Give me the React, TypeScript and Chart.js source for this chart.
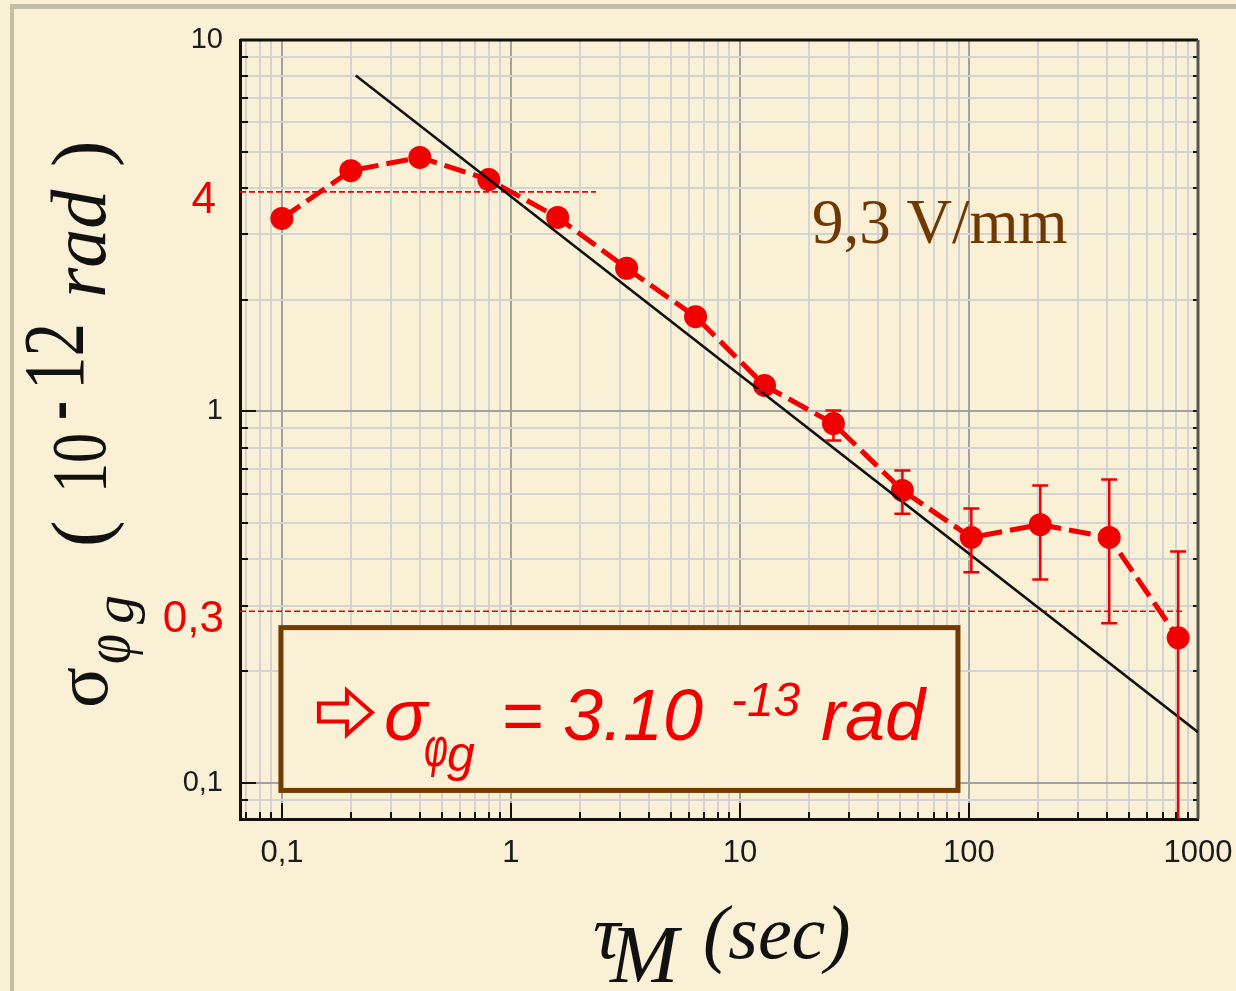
import { useEffect, useRef } from 'react';
import { Chart, registerables } from 'chart.js';

Chart.register(...registerables);

// ---------------- data ----------------
const tauValues = [0.1, 0.2, 0.4, 0.8, 1.6, 3.2, 6.4, 12.8, 25.6, 51.2, 102.4, 204.8, 409.6, 819.2];
const sigmaValues = [3.31, 4.45, 4.83, 4.21, 3.33, 2.43, 1.8, 1.175, 0.928, 0.613, 0.458, 0.496, 0.458, 0.246];
const errHigh = [null, null, null, null, null, null, null, 1.21, 1.006, 0.694, 0.548, 0.632, 0.656, 0.42];
const errLow = [null, null, null, null, null, null, null, 1.14, 0.836, 0.531, 0.369, 0.353, 0.269, 0.01];

const fitTau = [0.21, 1000];
const fitSigma = [8.02, 0.137];

const refValues = [3.9, 0.29];
const refEnds = [2.35, 851];
const refLabels = ['4', '0,3'];

const xGridValues = [
  0.07, 0.08, 0.09,
  0.1, 0.2, 0.3, 0.4, 0.5, 0.6, 0.7, 0.8, 0.9,
  1, 2, 3, 4, 5, 6, 7, 8, 9,
  10, 20, 30, 40, 50, 60, 70, 80, 90,
  100, 200, 300, 400, 500, 600, 700, 800, 900,
  1000,
];
const yGridValues = [
  0.09,
  0.1, 0.2, 0.3, 0.4, 0.5, 0.6, 0.7, 0.8, 0.9,
  1, 2, 3, 4, 5, 6, 7, 8, 9,
  10,
];
const xLabelValues = [0.1, 1, 10, 100, 1000];
const xLabelTexts = ['0,1', '1', '10', '100', '1000'];
const yLabelValues = [0.1, 1, 10];
const yLabelTexts = ['0,1', '1', '10'];
const majorValues = [0.1, 1, 10, 100, 1000];

const annotationText = '9,3 V/mm';
const boxRange = { x0: 0.1, x1: 89.5, yTop: 0.262, yBottom: 0.0955 };

// ---------------- styles ----------------
const BG = '#f9f0d5';
const FRAME = '#c3bfa6';
const RED = '#f00000';
const BROWN = '#713b02';

const sameLog = (a: number, b: number) => Math.abs(Math.log10(a) - Math.log10(b)) < 1e-6;
const isMajor = (v: number) => majorValues.some((m) => sameLog(m, v));

const overlayPlugin = {
  id: 'overlay',
  beforeDraw(chart: any) {
    const { ctx, width, height } = chart;
    ctx.save();
    ctx.fillStyle = BG;
    ctx.fillRect(0, 0, width, height);
    ctx.fillStyle = FRAME;
    ctx.fillRect(10, 4, width - 10, 5);
    ctx.fillRect(10, 4, 4, height - 4);
    ctx.restore();
  },
  beforeDatasetsDraw(chart: any) {
    const { ctx, chartArea: ca, scales } = chart;
    const xs = scales.x;
    const ys = scales.y;
    ctx.save();
    // inner tick marks
    ctx.strokeStyle = '#111';
    ctx.lineWidth = 2;
    ys.ticks.forEach((t: any) => {
      const y = Math.round(ys.getPixelForValue(t.value));
      if (y <= ca.top + 1) return;
      const len = isMajor(t.value) ? 16 : 8;
      ctx.beginPath();
      ctx.moveTo(ca.left, y);
      ctx.lineTo(ca.left + len, y);
      ctx.stroke();
      ctx.beginPath();
      ctx.moveTo(ca.right, y);
      ctx.lineTo(ca.right - 5, y);
      ctx.stroke();
    });
    xs.ticks.forEach((t: any) => {
      const x = Math.round(xs.getPixelForValue(t.value));
      if (x >= ca.right - 1) return;
      const len = isMajor(t.value) ? 16 : 7;
      ctx.beginPath();
      ctx.moveTo(x, ca.bottom);
      ctx.lineTo(x, ca.bottom - len);
      ctx.stroke();
    });
    // top and right frame
    ctx.lineWidth = 3;
    ctx.strokeStyle = '#111';
    ctx.beginPath();
    ctx.moveTo(ca.left, ca.top);
    ctx.lineTo(ca.right, ca.top);
    ctx.stroke();
    ctx.strokeStyle = '#555';
    ctx.beginPath();
    ctx.moveTo(ca.right, ca.top);
    ctx.lineTo(ca.right, ca.bottom);
    ctx.stroke();
    // reference dashed lines + red labels
    ctx.strokeStyle = RED;
    ctx.lineWidth = 1.6;
    ctx.setLineDash([6, 3]);
    refValues.forEach((v, i) => {
      const y = ys.getPixelForValue(v);
      ctx.beginPath();
      ctx.moveTo(ca.left, y);
      ctx.lineTo(xs.getPixelForValue(refEnds[i]), y);
      ctx.stroke();
    });
    ctx.setLineDash([]);
    ctx.fillStyle = RED;
    ctx.font = '44px "Liberation Sans"';
    ctx.textAlign = 'right';
    ctx.textBaseline = 'middle';
    refValues.forEach((v, i) => {
      const y = ys.getPixelForValue(v);
      ctx.fillText(refLabels[i], i === 0 ? 216 : 224, y + 9);
    });
    ctx.restore();
  },
  afterDatasetsDraw(chart: any) {
    const { ctx, chartArea: ca, scales } = chart;
    const xs = scales.x;
    const ys = scales.y;
    ctx.save();
    // error bars
    ctx.strokeStyle = RED;
    ctx.lineWidth = 2.5;
    tauValues.forEach((t, i) => {
      const hi = errHigh[i];
      const lo = errLow[i];
      if (hi == null || lo == null) return;
      const x = xs.getPixelForValue(t);
      const yh = ys.getPixelForValue(hi);
      const ylRaw = ys.getPixelForValue(lo);
      const yl = Math.min(ylRaw, ca.bottom);
      ctx.beginPath();
      ctx.moveTo(x, yh);
      ctx.lineTo(x, yl);
      ctx.moveTo(x - 8, yh);
      ctx.lineTo(x + 8, yh);
      if (ylRaw <= ca.bottom) {
        ctx.moveTo(x - 8, yl);
        ctx.lineTo(x + 8, yl);
      }
      ctx.stroke();
    });

    // result box
    const bl = xs.getPixelForValue(boxRange.x0) - 1;
    const br = xs.getPixelForValue(boxRange.x1);
    const bt = ys.getPixelForValue(boxRange.yTop);
    const bb = ys.getPixelForValue(boxRange.yBottom);
    ctx.fillStyle = BG;
    ctx.fillRect(bl, bt, br - bl, bb - bt);
    ctx.strokeStyle = BROWN;
    ctx.lineWidth = 5;
    ctx.strokeRect(bl, bt, br - bl, bb - bt);

    // arrow
    const ox = bl;
    const oy = bt;
    ctx.strokeStyle = RED;
    ctx.lineWidth = 4;
    ctx.lineJoin = 'miter';
    ctx.beginPath();
    ctx.moveTo(ox + 38, oy + 76);
    ctx.lineTo(ox + 66, oy + 76);
    ctx.lineTo(ox + 66, oy + 63);
    ctx.lineTo(ox + 91, oy + 85);
    ctx.lineTo(ox + 66, oy + 107);
    ctx.lineTo(ox + 66, oy + 94);
    ctx.lineTo(ox + 38, oy + 94);
    ctx.closePath();
    ctx.stroke();

    ctx.fillStyle = RED;
    ctx.textAlign = 'left';
    ctx.textBaseline = 'alphabetic';
    const sans = '"Liberation Sans", Arial, sans-serif';
    ctx.font = `italic 72px ${sans}`;
    ctx.fillText('σ', ox + 103, oy + 112);
    ctx.font = `italic 54px ${sans}`;
    ctx.fillText('φ', ox + 143, oy + 138, 24);
    ctx.font = `italic 50px ${sans}`;
    ctx.fillText('g', ox + 166, oy + 143);
    ctx.font = `italic 72px ${sans}`;
    ctx.fillText('=', ox + 220, oy + 112);
    ctx.fillText('3.10', ox + 282, oy + 112, 148);
    ctx.font = `italic 48px ${sans}`;
    ctx.fillText('-13', ox + 450, oy + 88);
    ctx.font = `italic 72px ${sans}`;
    ctx.fillText('rad', ox + 540, oy + 112);

    // "9,3 V/mm"
    ctx.fillStyle = '#6e3800';
    ctx.font = '63px "Liberation Serif", serif';
    ctx.fillText(annotationText, 812, 243);

    // x-axis title
    const serif = '"Liberation Serif", "Times New Roman", serif';
    ctx.fillStyle = '#111';
    ctx.font = `italic 76px ${serif}`;
    ctx.fillText('τ', 593, 958);
    ctx.font = `italic 82px ${serif}`;
    ctx.fillText('M', 610, 982, 84);
    ctx.font = `italic 76px ${serif}`;
    ctx.fillText('(sec)', 703, 958);

    // y-axis title (rotated)
    ctx.save();
    ctx.translate(107, 708);
    ctx.rotate(-Math.PI / 2);
    const put = (t: string, u: number, v: number, font: string, maxW?: number) => {
      ctx.font = font;
      if (maxW) ctx.fillText(t, u, v, maxW);
      else ctx.fillText(t, u, v);
    };
    put('σ', 0, 0, `76px ${serif}`, 45);
    put('φ', 44, 22, `italic 66px ${serif}`, 30);
    put('g', 84, 26, `italic 58px ${serif}`);
    put('(', 161, 0, `80px ${serif}`);
    put('10', 215, -2, `78px ${serif}`, 60);
    put('-', 288, -24, `86px ${serif}`, 19);
    put('12', 318, -24, `86px ${serif}`, 67);
    put('rad', 410, -2, `italic 78px ${serif}`, 113);
    put(')', 541, 0, `80px ${serif}`);
    ctx.restore();

    ctx.restore();
  },
};

export default function App() {
  const ref = useRef<HTMLCanvasElement>(null);

  useEffect(() => {
    const canvas = ref.current;
    if (!canvas) return;
    const chart = new Chart(canvas, {
      type: 'line',
      data: {
        datasets: [
          {
            label: 'fit',
            data: fitTau.map((t, i) => ({ x: t, y: fitSigma[i] })),
            borderColor: '#111',
            borderWidth: 2.5,
            pointRadius: 0,
            fill: false,
          },
          {
            label: 'sigma',
            data: tauValues.map((t, i) => ({ x: t, y: sigmaValues[i] })),
            borderColor: RED,
            borderWidth: 5,
            borderDash: [22, 8],
            pointRadius: 11.5,
            pointBackgroundColor: RED,
            pointBorderWidth: 0,
            fill: false,
          },
        ],
      },
      options: {
        responsive: false,
        animation: false,
        devicePixelRatio: 1,
        layout: { padding: { top: 40, right: 38, left: 0, bottom: 0 } },
        plugins: {
          legend: { display: false },
          tooltip: { enabled: false },
          title: { display: false },
        },
        scales: {
          x: {
            type: 'logarithmic',
            position: 'bottom',
            min: 0.0656,
            max: 1000,
            afterBuildTicks: (s: any) => {
              s.ticks = xGridValues.map((v) => ({ value: v }));
            },
            afterFit: (s: any) => {
              s.height = 172;
              s.paddingLeft = 0;
              s.paddingRight = 0;
            },
            ticks: {
              autoSkip: false,
              maxRotation: 0,
              minRotation: 0,
              padding: 16,
              color: '#1a1a1a',
              font: { family: 'Liberation Sans', size: 31 },
              callback: (value: any) => {
                const i = xLabelValues.findIndex((v) => sameLog(v, Number(value)));
                return i >= 0 ? xLabelTexts[i] : '';
              },
            },
            grid: {
              drawTicks: false,
              lineWidth: 2,
              color: (c: any) => (c.tick && isMajor(c.tick.value) ? '#a2a2a2' : '#d3d3d3'),
            },
            border: { color: '#111', width: 3 },
          },
          y: {
            type: 'logarithmic',
            position: 'left',
            min: 0.08,
            max: 10,
            afterBuildTicks: (s: any) => {
              s.ticks = yGridValues.map((v) => ({ value: v }));
            },
            afterFit: (s: any) => {
              s.width = 240;
              s.paddingTop = 0;
              s.paddingBottom = 0;
            },
            ticks: {
              autoSkip: false,
              padding: 17,
              color: '#1a1a1a',
              font: { family: 'Liberation Sans', size: 29 },
              callback: (value: any) => {
                const i = yLabelValues.findIndex((v) => sameLog(v, Number(value)));
                return i >= 0 ? yLabelTexts[i] : '';
              },
            },
            grid: {
              drawTicks: false,
              lineWidth: 2,
              color: (c: any) => (c.tick && isMajor(c.tick.value) ? '#a2a2a2' : '#d3d3d3'),
            },
            border: { color: '#111', width: 3 },
          },
        },
      },
      plugins: [overlayPlugin],
    } as any);
    return () => chart.destroy();
  }, []);

  return (
    <div style={{ position: 'absolute', left: 0, top: 0, width: 1236, height: 991 }}>
      <canvas ref={ref} width={1236} height={991} style={{ display: 'block', width: 1236, height: 991 }} />
    </div>
  );
}
